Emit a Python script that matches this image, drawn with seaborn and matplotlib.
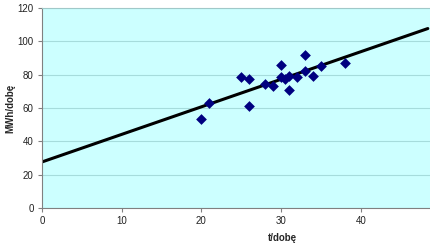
import matplotlib
matplotlib.use("Agg")
import matplotlib.pyplot as plt
import seaborn as sns
import pandas as pd
import numpy as np

# tons per day vs MWh per day
t_doba = [20, 21, 25, 26, 26, 28, 29, 30, 30, 30.5, 31, 31, 32, 33, 33, 34, 35, 38]
mwh_doba = [53.5, 63, 78.5, 77.5, 61, 74.5, 73.5, 86, 78.5, 77.5, 79.5, 71, 78.5, 92, 82, 79.5, 85, 87]

trend_x = [0, 48.4]

df = pd.DataFrame({'t': t_doba, 'mwh': mwh_doba})

sns.set_style('white')
plt.rcParams['font.family'] = ['Liberation Sans', 'DejaVu Sans']

fig = plt.figure(figsize=(4.31, 2.47), dpi=100)
ax = fig.add_axes([42/431, 39/247, 389/431, 200/247])
ax.set_facecolor('#CCFFFF')

slope, intercept = np.polyfit(df['t'], df['mwh'], 1)
ax.plot(trend_x, [intercept + slope*v for v in trend_x], color='black', lw=2.2, zorder=2)

sns.scatterplot(data=df, x='t', y='mwh', marker='D', color='#000080', s=30,
                edgecolor='#000080', linewidth=0, ax=ax, zorder=3)

ax.set_xlim(0, 48.8)
ax.set_ylim(0, 120)
ax.set_xticks([0, 10, 20, 30, 40])
ax.set_yticks(range(0, 121, 20))
ax.yaxis.grid(True, color='#A6DCDC', lw=0.8)
ax.set_axisbelow(True)
ax.spines['right'].set_visible(False)
ax.spines['top'].set_color('#A0C8C8')
ax.spines['left'].set_color('#808080')
ax.spines['bottom'].set_color('#808080')
ax.tick_params(axis='both', labelsize=7, length=3, direction='out', color='#808080',
               labelcolor='#222222', pad=3, left=True, bottom=True)

ax.set_xlabel('t/dobę', fontsize=7, fontweight='bold')
ax.set_ylabel('MWh/dobę', fontsize=7, fontweight='bold')
ax.xaxis.set_label_coords((282-42)/389, -0.125)
ax.yaxis.set_label_coords(-0.068, 0.5)

fig.savefig('out.png', dpi=100)
